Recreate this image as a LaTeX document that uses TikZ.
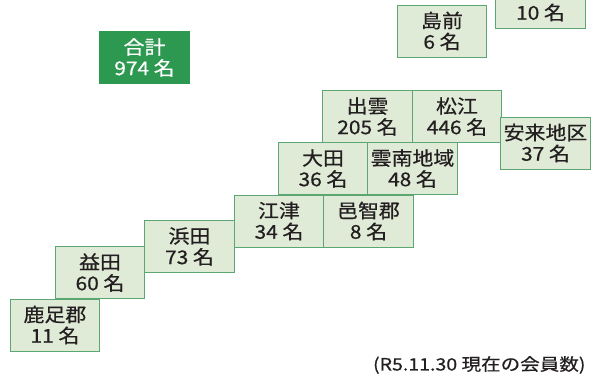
\documentclass[tikz,border=0pt]{standalone}
\usepackage{fontspec}
\setmainfont{Noto Sans CJK JP}
\newfontfamily\boxfont{Noto Sans CJK JP}[FakeBold=0.6,FakeStretch=1.1]
\newfontfamily\notefont{Noto Sans CJK JP}[FakeBold=0.5,FakeStretch=1.15]
\usetikzlibrary{positioning}
\definecolor{boxfill}{RGB}{223,234,215}
\definecolor{boxline}{RGB}{92,166,116}
\definecolor{totalfill}{RGB}{44,152,80}
\definecolor{ink}{RGB}{35,31,32}
\begin{document}
\begin{tikzpicture}[x=1pt,y=-1pt,
  area/.style={draw=boxline,fill=boxfill,line width=1pt,outer sep=0pt,inner sep=0pt,
    minimum width=89.5pt,minimum height=52pt,align=center,text=ink,
    font=\boxfont\fontsize{19}{21}\selectfont},
  total/.style={area,draw=totalfill,fill=totalfill,text=white},
  note/.style={text=ink,font=\notefont\fontsize{17}{20}\selectfont,anchor=east}]
\useasboundingbox (0,0) rectangle (592,381);
\clip (0,0) rectangle (592,381);

% total
\node[total] (goukei) at (144.5,57.5) {合計\\974 名};

% islands
\node[area] (dozen) at (442,31) {島前\\6 名};
\node[area] (dogo) at (540.5,2) {\phantom{名}\\10 名};

% east
\node[area] (izumo) at (367.5,116.5) {出雲\\205 名};
\node[area,right=0pt of izumo] (matsue) {松江\\446 名};
\node[area] (yasugi) at (545.5,143) {安来地区\\37 名};
\node[area] (oda) at (323,168.5) {大田\\36 名};
\node[area,right=0pt of oda] (unnan) {雲南地域\\48 名};

% west
\node[area] (gotsu) at (279,221) {江津\\34 名};
\node[area,right=0pt of gotsu] (ochi) {邑智郡\\8 名};
\node[area] (hamada) at (189.5,246.5) {浜田\\73 名};
\node[area] (masuda) at (100,272.5) {益田\\60 名};
\node[area] (kanoashi) at (55,325) {鹿足郡\\11 名};

\node[note] (date) at (589,365) {(R5.11.30 現在の会員数)};
\end{tikzpicture}
\end{document}
